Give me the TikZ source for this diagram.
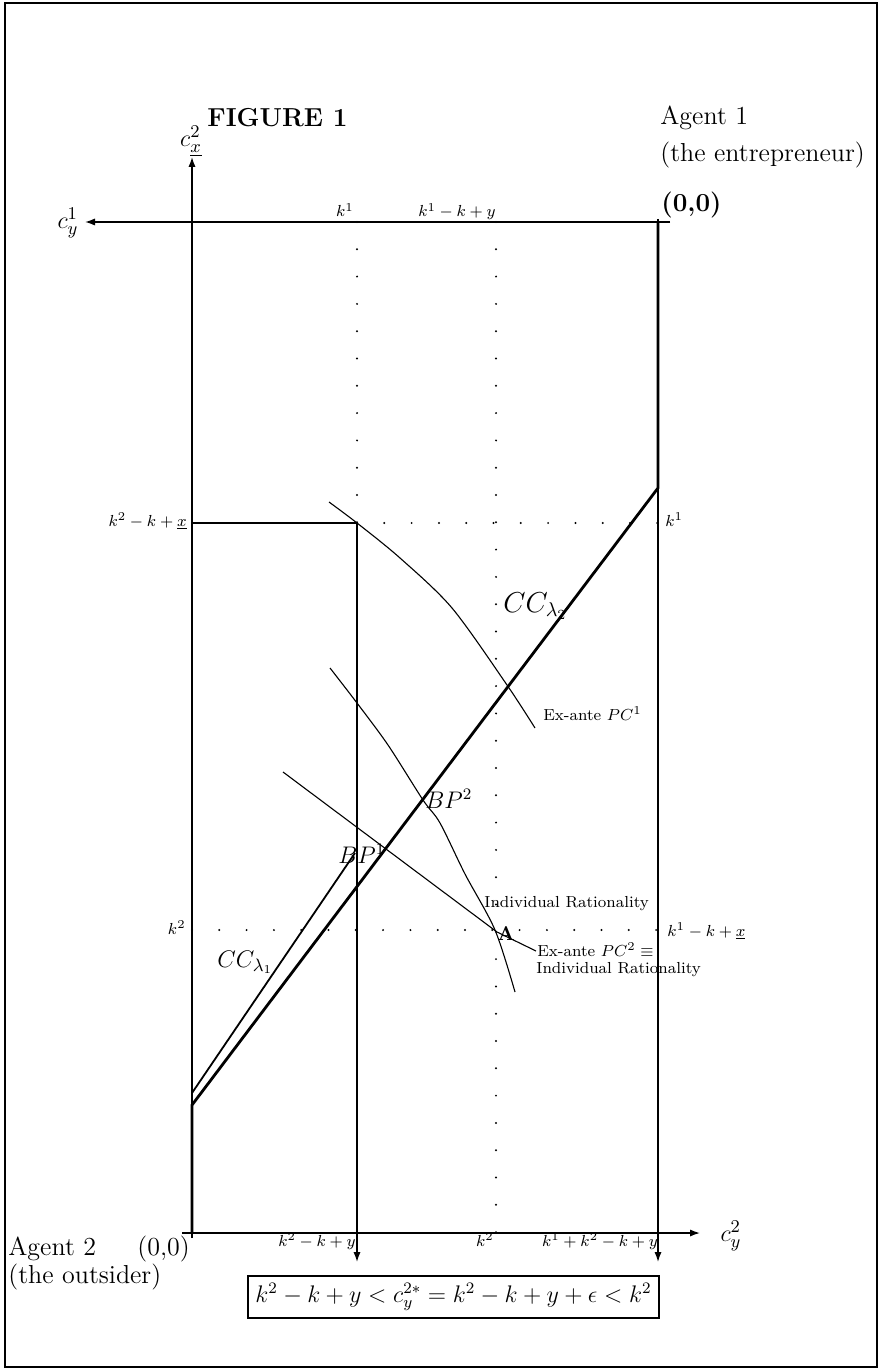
\documentclass[tikz,border=0pt]{standalone}
\usetikzlibrary{arrows.meta}
\begin{document}
\begin{tikzpicture}[x=0.5pt,y=-0.5pt,
  ax/.style={line width=0.7pt},
  thk/.style={line width=1.4pt},
  mid/.style={line width=1.0pt},
  crv/.style={line width=0.55pt},
  dots/.style={line width=1.1pt, line cap=round, dash pattern=on 0pt off 13.65pt},
  arr/.style={-{Latex[length=5pt,width=3.6pt]}},
  lab/.style={inner sep=0pt, anchor=base west},
  labr/.style={inner sep=0pt, anchor=base east},
  labc/.style={inner sep=0pt, anchor=base},
  small/.style={font=\fontsize{8}{9.5}\selectfont},
  big/.style={font=\fontsize{13}{15.5}\selectfont},
]
\useasboundingbox (0,0) rectangle (883,1369);
\draw[line width=0.8pt] (5,3) rectangle (877,1367);

% key coordinates
\coordinate (O2) at (192,1233);
\coordinate (O2b) at (192,1238);
\coordinate (O1) at (658,222);
\coordinate (O1t) at (658,219);
\coordinate (ytop) at (192,157);
\coordinate (xleft) at (85,222);
\coordinate (xtopr) at (670,222);
\coordinate (xbotl) at (182,1233);
\coordinate (xright) at (700,1233);
\coordinate (rdown) at (658,1262);
\coordinate (mtop) at (357,523);
\coordinate (mdown) at (357,1262);
\coordinate (mcc) at (357,887);
\coordinate (lx) at (192,523);
\coordinate (cc1) at (192,1105);
\coordinate (cc2) at (658,488);
\coordinate (la1) at (192,1093);
\coordinate (la2) at (355,853);
\coordinate (A) at (497,932);
\coordinate (pc2s) at (283,772);
\coordinate (pc2e) at (536,951);
% dotted line ends
\coordinate (d1t) at (357,222);
\coordinate (d2t) at (496,222);
\coordinate (d2b) at (496,1233);
\coordinate (h1r) at (658,523);
\coordinate (h2l) at (192,930);
\coordinate (h2r) at (658,930);

% axes
\draw[ax,arr] (O2b) -- (ytop);
\draw[ax,arr] (xtopr) -- (xleft);
\draw[ax,arr] (xbotl) -- (xright);
\draw[ax,arr] (O1t) -- (rdown);
\draw[ax,arr] (mtop) -- (mdown);
\draw[ax] (lx) -- (mtop);

% dotted guides
\draw[dots] (d1t) -- (mtop);
\draw[dots] (d2t) -- (d2b);
\draw[dots] (mtop) -- (h1r);
\draw[dots] (h2l) -- (h2r);

% thick contract curve
\draw[thk, line join=miter] (O2) -- (cc1) -- (cc2) -- (O1);
\draw[mid] (mtop) -- (mcc);
\draw[line width=0.9pt] (la1) -- (la2);

% curves
\draw[crv] plot[smooth, tension=0.5] coordinates {(329,502) (357,523) (400,558) (452,608) (507,685) (535,728)};
\draw[crv] plot[smooth, tension=0.5] coordinates {(330,668) (357,703) (388,745) (423,800) (440,823) (465,874) (495,930) (515,992)};
\draw[crv] (pc2s) -- (A) -- (pc2e);

% texts
\node[lab, font=\fontsize{13}{15}\selectfont\bfseries] (fig) at (207,127) {FIGURE 1};
\node[big, inner sep=0pt] (cx2) at (191,141) {$c^2_{\underline{x}}$};
\node[big, inner sep=0pt] (cy1) at (68,223) {$c^1_y$};
\node[big, inner sep=0pt] (cy2) at (731,1236) {$c^2_y$};
\node[lab, big] (ag1) at (660,125) {Agent 1};
\node[lab, big] (ag1b) at (660,162) {(the entrepreneur)};
\node[lab, font=\fontsize{13}{15}\selectfont\bfseries] (o1) at (661,212) {(0,0)};
\node[lab, big] (ag2) at (8,1255) {Agent 2};
\node[lab, big] (ag2b) at (8,1283) {(the outsider)};
\node[lab, big] (o2) at (137,1255) {(0,0)};

\node[labc, small] (tk1) at (345,217) {$k^1$};
\node[labc, small] (tk1y) at (457,217) {$k^1-k+y$};
\node[labr, small] (lk2x) at (187,526) {$k^2-k+\underline{x}$};
\node[lab, small] (rk1) at (665,526) {$k^1$};
\node[labr, small] (lk2) at (186,934) {$k^2$};
\node[lab, small] (rk1x) at (667,936) {$k^1-k+\underline{x}$};
\node[labc, small] (bk2y) at (317,1246) {$k^2-k+y$};
\node[labc, small] (bk2) at (485,1246) {$k^2$};
\node[labc, small] (bk12) at (600,1246) {$k^1+k^2-k+y$};

\node[lab, small] (pc1) at (543,720) {Ex-ante $PC^1$};
\node[lab, small] (ir1) at (484,907) {Individual Rationality};
\node[lab, small] (pc2) at (537,956) {Ex-ante $PC^2\equiv$};
\node[lab, small] (ir2) at (536,973) {Individual Rationality};
\node[lab, font=\fontsize{10}{12}\selectfont\bfseries] (Alab) at (497,940) {A};

\node[lab, font=\fontsize{14}{16}\selectfont] (cl2) at (503,612) {$CC_{\lambda_2}$};
\node[lab, font=\fontsize{13}{15}\selectfont] (cl1) at (217,967) {$CC_{\lambda_1}$};
\node[lab, font=\fontsize{12}{14}\selectfont] (bp2) at (425,808) {$BP^2$};
\node[lab, font=\fontsize{12}{14}\selectfont] (bp1) at (338,863) {$BP^1$};

\node[draw, line width=0.6pt, minimum width=205.5pt, minimum height=21pt, inner sep=0pt,
      font=\fontsize{12}{14}\selectfont] (box) at (453.5,1297)
  {$k^2-k+y<c_y^{2*}=k^2-k+y+\epsilon<k^2$};
\end{tikzpicture}
\end{document}
